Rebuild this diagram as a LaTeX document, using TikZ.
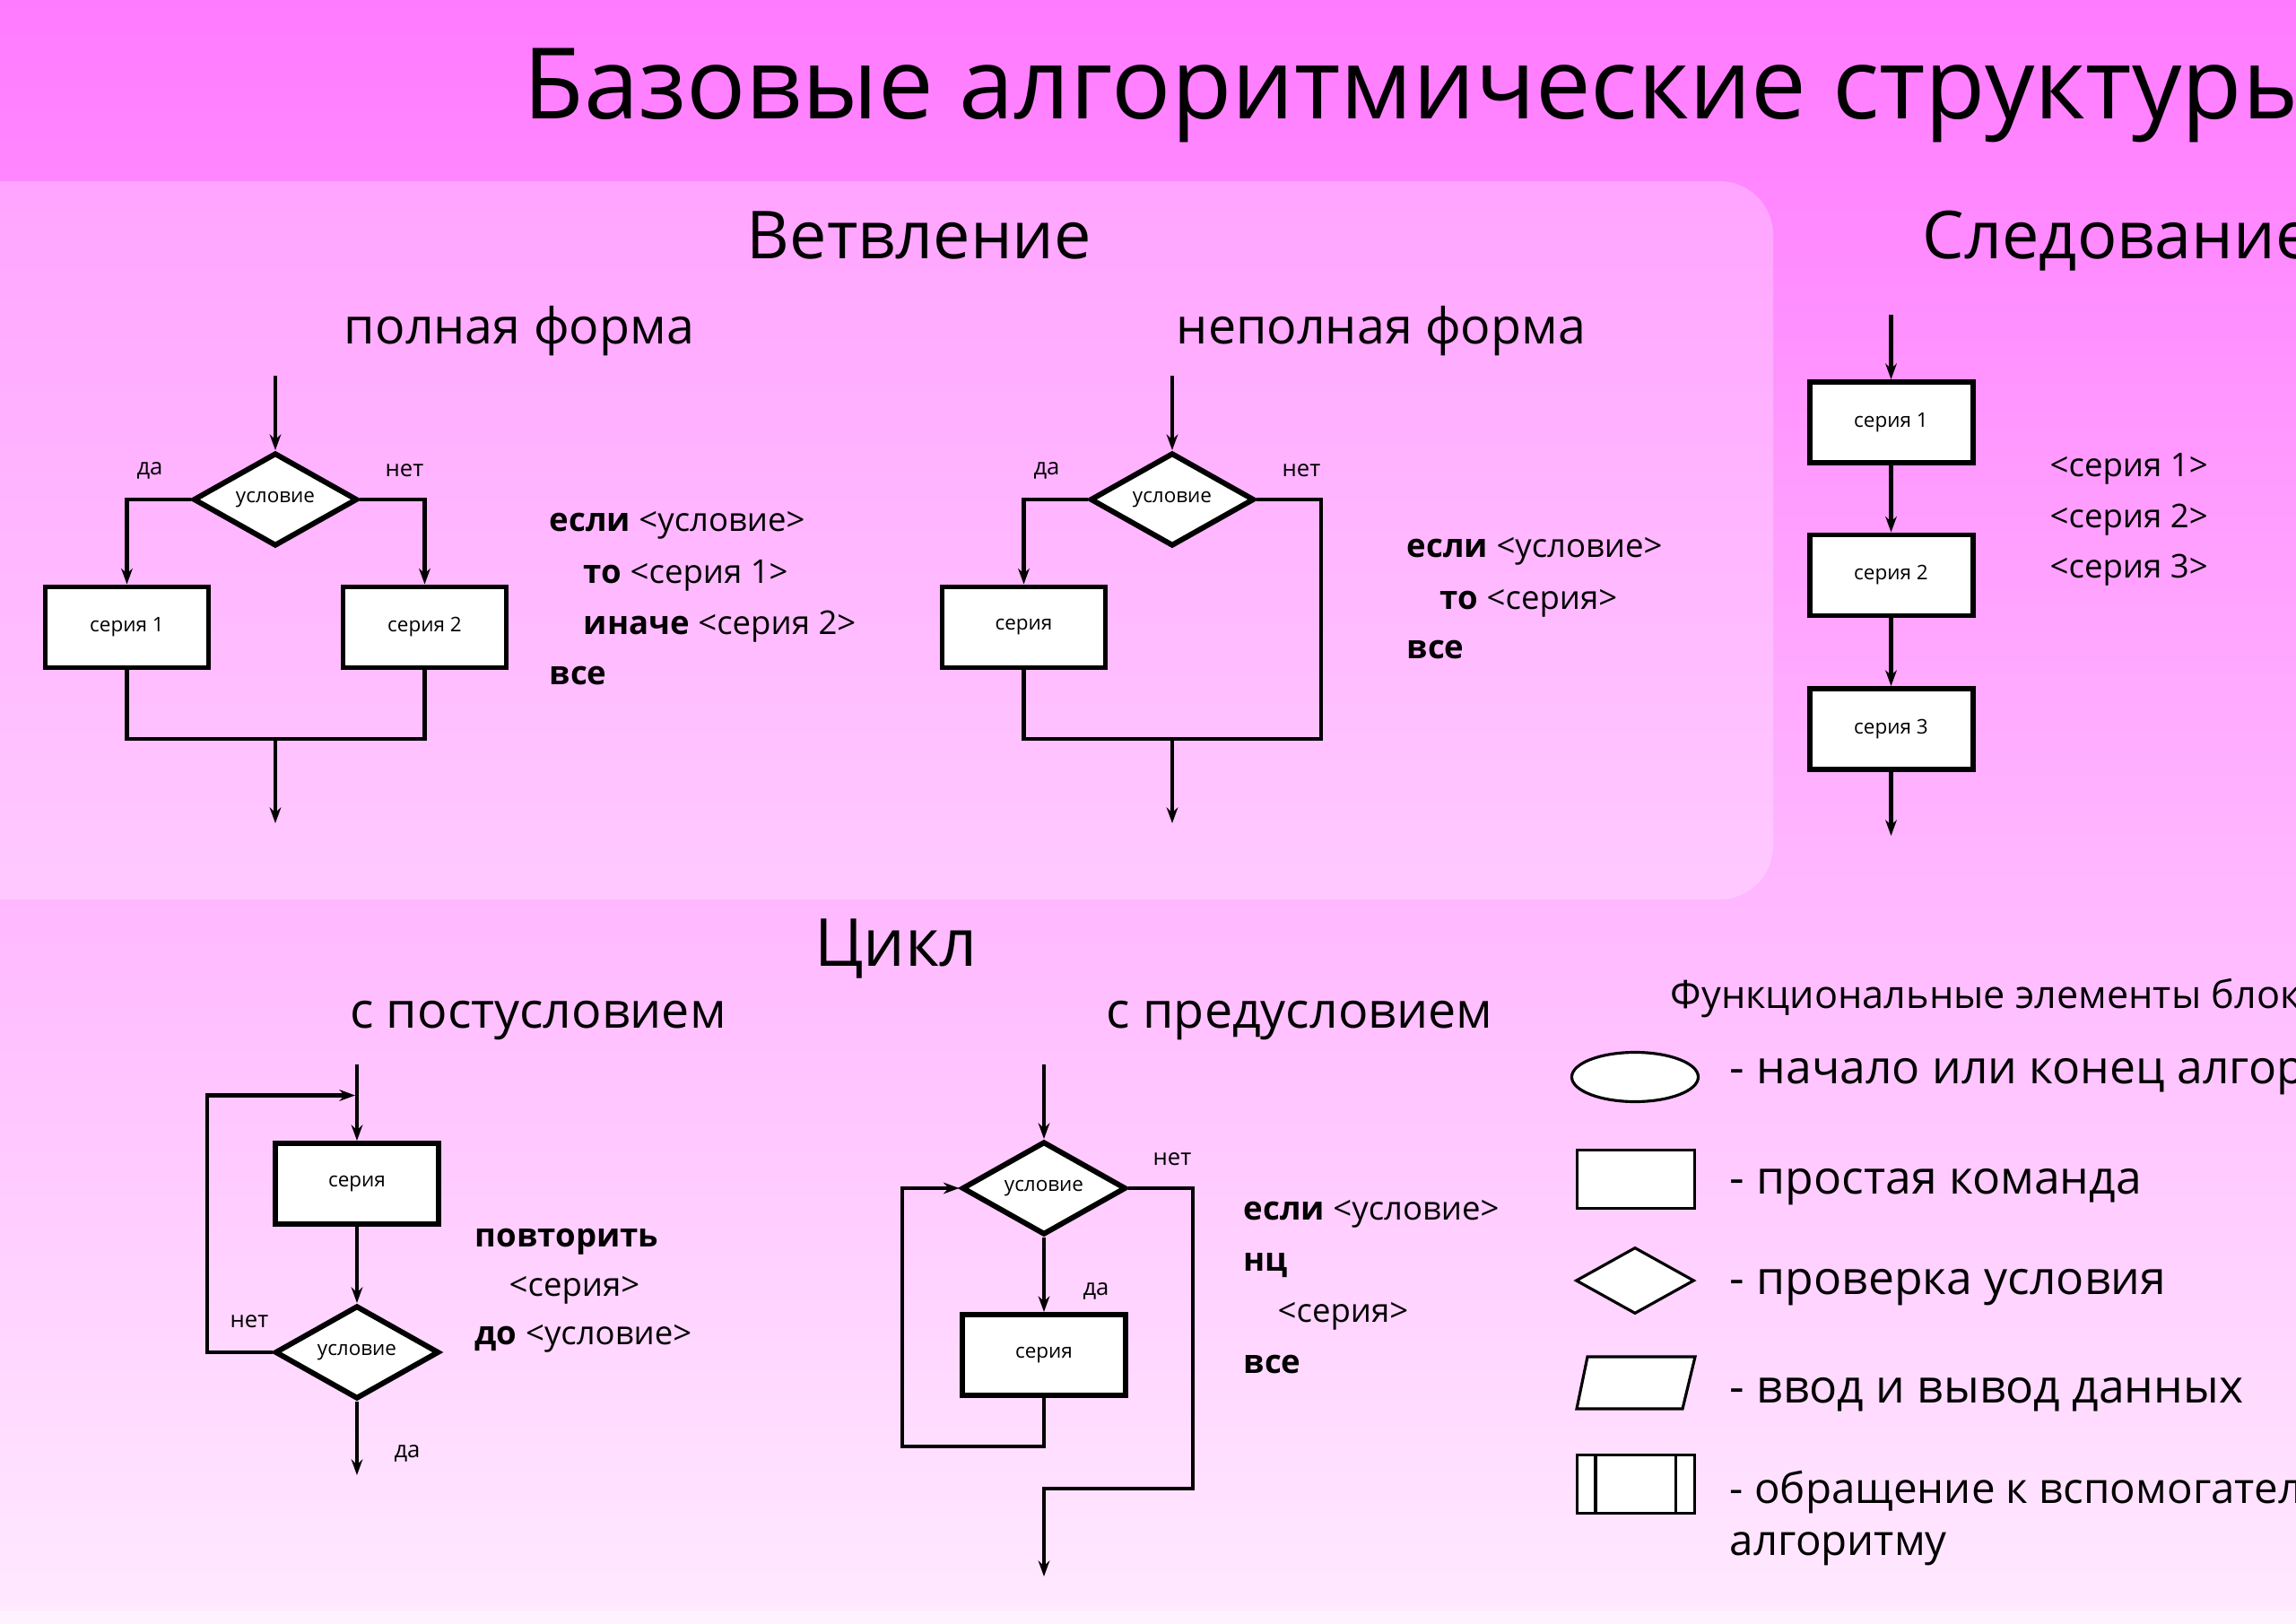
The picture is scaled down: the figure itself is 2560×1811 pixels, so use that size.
\documentclass[tikz,border=0pt]{standalone}
\usepackage{fontspec}
\setmainfont{Open Sans}
\usetikzlibrary{arrows.meta,positioning,shapes.geometric}
\definecolor{SlideTop}{RGB}{255,122,255}
\definecolor{SlideBottom}{RGB}{255,234,255}
\definecolor{SlideEdge}{RGB}{255,242,255}

\begin{document}
\begin{tikzpicture}[x=0.1mm,y=-0.1mm,>={Stealth[length=5pt,width=3.6pt]},
    blk/.style={draw,line width=1.7pt,fill=white,minimum width=18.2mm,minimum height=9mm,
      inner sep=0pt,font=\fontsize{6.4}{7}\selectfont},
    cond/.style={blk,diamond,aspect=1.8,minimum width=18.3mm,minimum height=10.4mm},
    flow/.style={line width=1.4pt},
    lbl/.style={inner sep=0pt,font=\fontsize{7.3}{8}\selectfont},
    code/.style={anchor=base west,inner sep=0pt,font=\fontsize{10.4}{12}\selectfont},
    head/.style={anchor=base,inner sep=0pt,font=\fontsize{21}{25}\selectfont},
    subhead/.style={anchor=base,inner sep=0pt,font=\fontsize{15.8}{19}\selectfont},
    sym/.style={draw,line width=0.9pt,fill=white,inner sep=0pt},
    legend/.style={anchor=base west,inner sep=0pt,font=\fontsize{14.7}{18}\selectfont}]
  \useasboundingbox (0,0) rectangle (2560,1811);
  \shade[top color=SlideTop,bottom color=SlideBottom] (0,0) rectangle (2560,1811);
  \fill[SlideEdge] (0,1796) rectangle (2560,1811);
  \fill[white,opacity=0.25,rounded corners=6mm] (-100,202) rectangle (1977,1003);

  \node[anchor=base west,inner sep=0pt,font=\fontsize{31.3}{36}\selectfont] (title) at (583,132)
    {Базовые алгоритмические структуры};
  \node[head] (hBranch) at (1025,288) {Ветвление};
  \node[head,anchor=base west] (hSeq) at (2143,288) {Следование};
  \node[head] (hLoop) at (999,1077) {Цикл};
  \node[subhead] (hFull) at (579,383) {полная форма};
  \node[subhead] (hPart) at (1540,383) {неполная форма};
  \node[subhead] (hPost) at (600,1146) {с постусловием};
  \node[subhead] (hPre) at (1449,1146) {с предусловием};

  % полная форма
  \coordinate (inA) at (307,419);
  \node[cond] (dA) at (307,557) {условие};
  \node[blk] (sA1) at (141.5,699.5) {серия 1};
  \node[blk] (sA2) at (473.5,699.5) {серия 2};
  \node[lbl] (yesA) at (167,525) {да};
  \node[lbl] (noA) at (451,525) {нет};
  \coordinate (jA) at (307,824);
  \coordinate (outA) at (307,918);
  \draw[flow,->] (inA) -- (dA);
  \draw[flow,->] (dA.west) -| (sA1.north);
  \draw[flow,->] (dA.east) -| (sA2.north);
  \draw[flow] (sA1.south) |- (jA) -| (sA2.south);
  \draw[flow,->] (jA) -- (outA);
  \node[code] (cA1) at (612,592) {\textbf{если} <условие>};
  \node[code] (cA2) at (650,650) {\textbf{то} <серия 1>};
  \node[code] (cA3) at (650,707) {\textbf{иначе} <серия 2>};
  \node[code] (cA4) at (612,763) {\textbf{все}};

  % неполная форма
  \coordinate (inB) at (1307,419);
  \node[cond] (dB) at (1307,557) {условие};
  \node[blk] (sB) at (1141.5,699.5) {серия};
  \node[lbl] (yesB) at (1167,525) {да};
  \node[lbl] (noB) at (1451,525) {нет};
  \coordinate (jB) at (1307,824);
  \coordinate (rB) at (1473,824);
  \coordinate (outB) at (1307,918);
  \draw[flow,->] (inB) -- (dB);
  \draw[flow,->] (dB.west) -| (sB.north);
  \draw[flow] (sB.south) |- (rB) |- (dB.east);
  \draw[flow,->] (jB) -- (outB);
  \node[code] (cB1) at (1568,621) {\textbf{если} <условие>};
  \node[code] (cB2) at (1605,679) {\textbf{то} <серия>};
  \node[code] (cB3) at (1568,734) {\textbf{все}};

  % следование
  \coordinate (inC) at (2108.5,351);
  \node[blk] (sC1) at (2108.5,471) {серия 1};
  \node[blk] (sC2) at (2108.5,641.5) {серия 2};
  \node[blk] (sC3) at (2108.5,813) {серия 3};
  \coordinate (outC) at (2108.5,932);
  \draw[flow,->] (inC) -- (sC1);
  \draw[flow,->] (sC1) -- (sC2);
  \draw[flow,->] (sC2) -- (sC3);
  \draw[flow,->] (sC3) -- (outC);
  \node[code] (cC1) at (2285,531) {<серия 1>};
  \node[code] (cC2) at (2285,588) {<серия 2>};
  \node[code] (cC3) at (2285,644) {<серия 3>};

  % цикл с постусловием
  \coordinate (inD) at (398,1187);
  \node[blk] (sD) at (398,1320) {серия};
  \node[cond] (dD) at (398,1508) {условие};
  \coordinate (lD) at (231,1221.5);
  \coordinate (mD) at (396,1221.5);
  \coordinate (outD) at (398,1645);
  \node[lbl] (noD) at (278,1474) {нет};
  \node[lbl] (yesD) at (454,1621) {да};
  \draw[flow,->] (inD) -- (sD);
  \draw[flow,->] (sD) -- (dD);
  \draw[flow,->] (dD.west) -| (lD) -- (mD);
  \draw[flow,->] (dD) -- (outD);
  \node[code] (cD1) at (529,1390) {\textbf{повторить}};
  \node[code] (cD2) at (567,1445) {<серия>};
  \node[code] (cD3) at (529,1499) {\textbf{до} <условие>};

  % цикл с предусловием
  \coordinate (inE) at (1164,1187);
  \node[cond] (dE) at (1164,1325) {условие};
  \node[blk] (sE) at (1164,1511) {серия};
  \coordinate (lE) at (1006,1613);
  \coordinate (rE) at (1330,1660);
  \coordinate (jE) at (1164,1660);
  \coordinate (outE) at (1164,1758);
  \node[lbl] (noE) at (1307,1293) {нет};
  \node[lbl] (yesE) at (1222,1440) {да};
  \draw[flow,->] (inE) -- (dE);
  \draw[flow,->] (dE) -- (sE);
  \draw[flow,->] (sE.south) |- (lE) |- (dE.west);
  \draw[flow,->] (dE.east) -| (rE) -- (jE) -- (outE);
  \node[code] (cE1) at (1386,1360) {\textbf{если} <условие>};
  \node[code] (cE2) at (1386,1417) {\textbf{нц}};
  \node[code] (cE3) at (1424,1474) {<серия>};
  \node[code] (cE4) at (1386,1531) {\textbf{все}};

  % условные обозначения
  \node[anchor=base west,inner sep=0pt,font=\fontsize{12.3}{14}\selectfont] (lgTitle) at (1862,1124)
    {Функциональные элементы блок-схем};
  \node[sym,ellipse,minimum width=14.1mm,minimum height=5.5mm] (lgOval) at (1823,1201) {};
  \node[sym,minimum width=13.1mm,minimum height=6.5mm] (lgRect) at (1824,1315) {};
  \node[sym,diamond,aspect=1.8,minimum width=13.2mm,minimum height=7.4mm] (lgCond) at (1823,1428) {};
  \draw[sym] (1770,1513) -- (1890,1513) -- (1876,1571) -- (1758,1571) -- cycle;
  \node[sym,minimum width=13.1mm,minimum height=6.5mm] (lgSub) at (1824,1655) {};
  \draw[line width=0.9pt] ([xshift=2.2mm]lgSub.north west) -- ([xshift=2.2mm]lgSub.south west);
  \draw[line width=0.9pt] ([xshift=-2.3mm]lgSub.north east) -- ([xshift=-2.3mm]lgSub.south east);
  \node[legend] (lgT1) at (1928,1208) {- начало или конец алгоритма};
  \node[legend] (lgT2) at (1928,1331) {- простая команда};
  \node[legend] (lgT3) at (1928,1443) {- проверка условия};
  \node[legend] (lgT4) at (1928,1564) {- ввод и вывод данных};
  \node[legend,font=\fontsize{13.5}{16}\selectfont] (lgT5) at (1928,1676) {- обращение к вспомогательному};
  \node[legend,font=\fontsize{13.5}{16}\selectfont] (lgT6) at (1928,1734) {алгоритму};
\end{tikzpicture}
\end{document}
